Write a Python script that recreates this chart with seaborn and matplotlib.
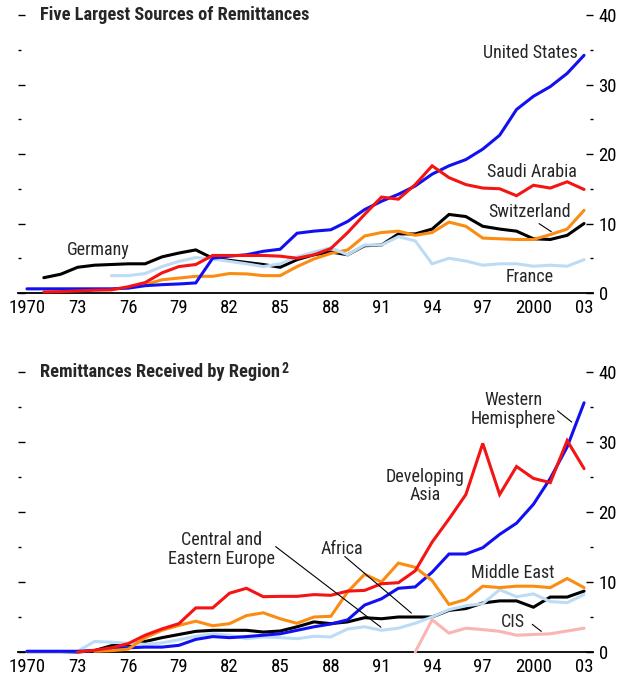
import numpy as np
import pandas as pd
import matplotlib
matplotlib.use("Agg")
import matplotlib.pyplot as plt
import seaborn as sns
from matplotlib.ticker import MultipleLocator

nan = np.nan
years = list(range(1970, 2004))

# ---- Top panel: Five largest sources of remittances (billions US$) ----
united_states = [0.6, 0.6, 0.6, 0.6, 0.6, 0.6, 0.7, 1.05, 1.2, 1.3, 1.45, 5.0, 5.3, 5.5, 6.0, 6.3, 8.6,
                 8.9, 9.1, 10.3, 12.0, 13.2, 14.2, 15.4, 17.1, 18.3, 19.2, 20.7, 22.7, 26.4, 28.3, 29.7,
                 31.6, 34.2]
saudi_arabia = [nan, 0.15, 0.2, 0.3, 0.4, 0.45, 0.9, 1.5, 2.9, 3.8, 4.1, 5.4, 5.4, 5.4, 5.4, 5.3, 5.0,
                5.5, 6.4, 8.7, 11.3, 13.8, 13.5, 15.6, 18.3, 16.6, 15.6, 15.1, 15.0, 14.0, 15.5, 15.1,
                16.0, 14.9]
germany = [nan, 2.2, 2.7, 3.7, 4.0, 4.1, 4.2, 4.2, 5.2, 5.75, 6.2, 5.0, 4.7, 4.4, 4.1, 3.7, 4.8, 5.5,
           5.9, 5.5, 6.8, 6.9, 8.5, 8.5, 9.2, 11.3, 11.0, 9.6, 9.2, 8.9, 7.8, 7.7, 8.3, 10.0]
switzerland = [nan, nan, nan, nan, nan, nan, nan, 1.2, 1.9, 2.15, 2.4, 2.4, 2.8, 2.75, 2.5, 2.5, 3.8,
               4.9, 5.7, 6.2, 8.2, 8.7, 8.9, 8.3, 8.7, 10.2, 9.6, 7.9, 7.8, 7.7, 7.7, 8.4, 9.2, 11.9]
france = [nan, nan, nan, nan, nan, 2.5, 2.5, 2.8, 3.8, 4.55, 5.1, 4.9, 4.55, 4.2, 3.8, 4.2, 5.2, 5.9,
          6.5, 5.5, 6.9, 6.9, 8.1, 7.5, 4.2, 5.0, 4.6, 4.0, 4.2, 4.2, 3.85, 4.0, 3.85, 4.8]

# ---- Bottom panel: Remittances received by region ----
western_hemisphere = [0.1, 0.1, 0.1, 0.1, 0.2, 0.4, 0.6, 0.7, 0.7, 0.95, 1.8, 2.2, 2.05, 2.2, 2.4, 2.6,
                      3.1, 3.6, 4.0, 4.6, 6.7, 7.6, 9.1, 9.3, 11.4, 14.0, 14.0, 14.9, 16.8, 18.4, 21.1,
                      24.8, 29.3, 35.6]
developing_asia = [nan, nan, nan, 0.0, 0.25, 0.6, 1.2, 2.4, 3.3, 4.05, 6.3, 6.3, 8.4, 9.1, 7.9, 7.95,
                   7.95, 8.2, 8.1, 8.7, 8.8, 9.75, 9.9, 11.6, 15.7, 19.0, 22.5, 29.8, 22.5, 26.5, 24.8,
                   24.2, 30.2, 26.2]
middle_east = [nan, nan, nan, nan, 0.1, 0.2, 0.4, 2.05, 3.1, 3.8, 4.4, 3.75, 4.05, 5.2, 5.6, 4.75, 4.1,
               5.0, 5.1, 8.6, 11.1, 10.0, 12.7, 12.1, 10.2, 6.8, 7.5, 9.4, 9.2, 9.4, 9.4, 9.2, 10.5, 9.2]
africa = [0.05, 0.05, 0.05, 0.0, 0.2, 0.9, 1.0, 1.5, 2.05, 2.5, 2.95, 3.1, 3.1, 3.1, 2.85, 3.0, 3.6,
          4.3, 4.05, 4.3, 4.9, 4.75, 5.0, 5.0, 5.0, 5.95, 6.2, 7.0, 7.3, 7.3, 6.4, 7.85, 7.85, 8.7]
central_eastern_europe = [0.1, 0.1, 0.1, 0.1, 1.5, 1.4, 1.25, 1.1, 1.3, 1.75, 2.25, 2.6, 2.4, 1.9,
                          2.15, 2.05, 1.9, 2.25, 2.15, 3.3, 3.6, 3.1, 3.4, 4.1, 5.0, 6.05, 6.6, 6.9,
                          8.9, 7.9, 8.3, 7.2, 7.05, 8.2]
cis = [nan] * 23 + [0.0, 4.6, 2.7, 3.4, 3.2, 2.95, 2.4, 2.5, 2.6, 3.0, 3.4]

x_tick_years = list(range(1970, 2004, 3))
x_tick_labels = ["1970", "73", "76", "79", "82", "85", "88", "91", "94", "97", "2000", "03"]
y_ticks = [0, 10, 20, 30, 40]

BLUE = "#1010f2"
RED = "#f41414"
BLACK = "#000000"
ORANGE = "#fb8c12"
LIGHTBLUE = "#bcdcf6"
PINK = "#f8b6b2"

sns.set_style("white")
FONT = ["Roboto Condensed", "DejaVu Sans"]
plt.rcParams["font.family"] = FONT
plt.rcParams["font.size"] = 13

fig = plt.figure(figsize=(6.19, 6.77), dpi=100)
ax_top = fig.add_axes([18 / 619, 1 - 293 / 677, (593 - 18) / 619, (293 - 15) / 677])
ax_bot = fig.add_axes([18 / 619, 1 - 652 / 677, (593 - 18) / 619, (652 - 372) / 677])

LW = 2.2


def draw(ax, series):
    for vals, color in series:
        df = pd.DataFrame({"year": years, "value": vals}).dropna()
        sns.lineplot(data=df, x="year", y="value", ax=ax, color=color, lw=LW,
                     clip_on=False, solid_joinstyle="miter")


def style(ax):
    ax.set_xlim(1969.47, 2003.53)
    ax.set_ylim(0, 40)
    ax.set_xlabel("")
    ax.set_ylabel("")
    for s in ["top", "left", "right"]:
        ax.spines[s].set_visible(False)
    ax.spines["bottom"].set_linewidth(1.3)
    ax.spines["bottom"].set_color("black")
    ax.spines["bottom"].set_zorder(1)
    ax.set_xticks(x_tick_years)
    ax.set_xticklabels(x_tick_labels)
    ax.xaxis.set_minor_locator(MultipleLocator(1))
    ax.tick_params(axis="x", which="major", direction="in", length=5.2, width=1.1, pad=4,
                   labelsize=13.5, colors="black")
    ax.tick_params(axis="x", which="minor", direction="in", length=3, width=1.0)
    ax.set_yticks(y_ticks)
    ax.yaxis.set_minor_locator(MultipleLocator(5))
    ax.tick_params(axis="y", which="both", left=True, right=True, labelleft=False,
                   labelright=True, direction="in", colors="black")
    ax.tick_params(axis="y", which="major", length=5, width=1.0, pad=4, labelsize=13.5)
    ax.tick_params(axis="y", which="minor", length=2.2, width=1.0)
    ax.set_facecolor("white")
    ax.grid(False)


draw(ax_top, [(germany, BLACK), (switzerland, ORANGE), (france, LIGHTBLUE),
              (united_states, BLUE), (saudi_arabia, RED)])
draw(ax_bot, [(africa, BLACK), (central_eastern_europe, LIGHTBLUE), (western_hemisphere, BLUE),
              (middle_east, ORANGE), (developing_asia, RED), (cis, PINK)])
style(ax_top)
style(ax_bot)

# titles
TFS = 13.2
fig.text(40 / 619, 1 - 15 / 677, "Five Largest Sources of Remittances", fontsize=TFS,
         fontweight="bold", va="center", ha="left")
t2 = fig.text(40 / 619, 1 - 372 / 677, "Remittances Received by Region", fontsize=TFS,
              fontweight="bold", va="center", ha="left")
fig.canvas.draw()
bb = t2.get_window_extent()
fig.text((bb.x1 + 2) / fig.bbox.width, (bb.y1 + 1) / fig.bbox.height, "2", fontsize=10,
         fontweight="bold", va="top", ha="left")

FS = 13
lk = dict(color="black", lw=0.8)

# top labels
ax_top.text(1974.2, 6.2, "Germany", fontsize=FS, ha="center", va="center")
ax_top.text(2002.6, 34.6, "United States", fontsize=FS, ha="right", va="center")
ax_top.text(2002.6, 17.4, "Saudi Arabia", fontsize=FS, ha="right", va="center")
ax_top.text(2002.2, 11.6, "Switzerland", fontsize=FS, ha="right", va="center")
ax_top.text(1999.8, 2.3, "France", fontsize=FS, ha="center", va="center")
ax_top.annotate("", xy=(2001.2, 8.6), xytext=(2000.2, 10.2),
                arrowprops=dict(arrowstyle="-", **lk))

# bottom labels
ax_bot.text(1981.55, 14.6, "Central and\nEastern Europe", fontsize=FS, ha="center", va="center",
            linespacing=1.05)
ax_bot.annotate("", xy=(1991.1, 3.3), xytext=(1984.6, 15.3), arrowprops=dict(arrowstyle="-", **lk))
ax_bot.text(1988.66, 14.7, "Africa", fontsize=FS, ha="center", va="center")
ax_bot.annotate("", xy=(1992.9, 5.3), xytext=(1988.7, 13.9), arrowprops=dict(arrowstyle="-", **lk))
ax_bot.text(1993.6, 23.7, "Developing\nAsia", fontsize=FS, ha="center", va="center",
            linespacing=1.05)
ax_bot.text(1998.8, 34.6, "Western\nHemisphere", fontsize=FS, ha="center", va="center",
            linespacing=1.05)
ax_bot.annotate("", xy=(2002.4, 32.6), xytext=(2001.3, 34.7), arrowprops=dict(arrowstyle="-", **lk))
ax_bot.text(1998.8, 11.3, "Middle East", fontsize=FS, ha="center", va="center")
ax_bot.text(1998.8, 4.3, "CIS", fontsize=FS, ha="center", va="center")
ax_bot.annotate("", xy=(2000.6, 2.7), xytext=(1999.8, 4.2), arrowprops=dict(arrowstyle="-", **lk))

fig.savefig("out.png", dpi=100, facecolor="white")
